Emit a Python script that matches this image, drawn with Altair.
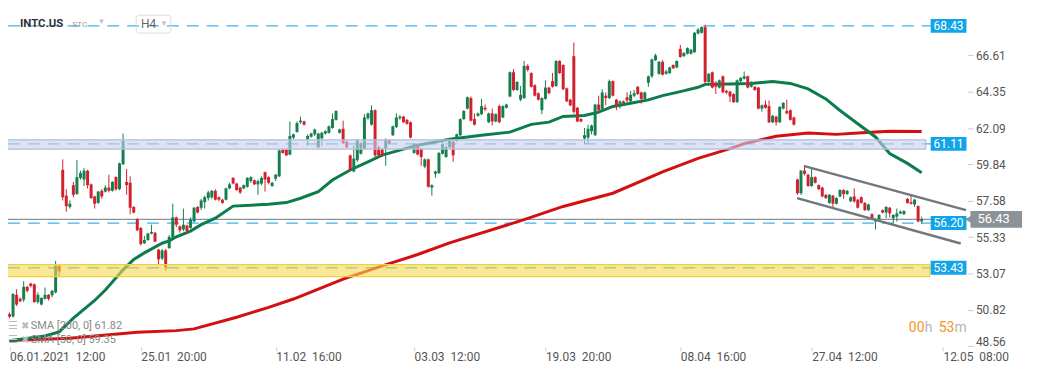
import altair as alt
import pandas as pd

# ---------------- data ----------------
opens = [50.55, 50.40, 51.75, 51.50, 51.45, 52.25, 52.45, 52.40, 51.30, 51.15,
         51.50, 51.75, 51.72, 51.90, 53.55, 59.50, 57.90, 57.20, 58.55, 58.00,
         59.00, 58.90, 59.45, 58.60, 57.85, 57.45, 58.20, 58.15, 58.40, 58.20,
         59.05, 58.30, 59.85, 58.75, 58.70, 57.20, 56.45, 55.90, 54.95, 55.15,
         55.55, 55.60, 54.55, 54.00, 54.50, 54.65, 55.30, 56.55, 56.00, 55.80,
         56.05, 55.90, 56.30, 57.20, 57.15, 57.50, 57.75, 57.80, 58.20, 57.80,
         57.65, 57.65, 58.35, 59.00, 58.65, 58.40, 58.35, 58.45, 58.80, 58.85,
         58.60, 58.65, 59.35, 59.05, 58.50, 58.95, 59.10, 60.75, 60.75, 60.45,
         61.50, 61.85, 62.45, 62.50, 61.40, 61.55, 61.70, 60.90, 61.45, 61.75,
         61.80, 62.10, 62.60, 61.80, 62.05, 61.25, 60.40, 59.40, 60.10, 60.50,
         60.80, 62.70, 62.30, 63.20, 60.90, 60.80, 60.80, 61.35, 61.65, 62.15,
         62.70, 62.80, 62.60, 62.45, 60.55, 61.00, 60.80, 59.70, 60.15, 58.40,
         59.25, 59.30, 60.50, 60.30, 60.90, 61.25, 61.30, 61.65, 62.65, 63.30,
         63.95, 62.65, 62.85, 62.95, 63.35, 62.45, 63.00, 62.50, 63.45, 62.75,
         63.35, 64.05, 65.55, 64.45, 63.85, 63.95, 65.95, 65.50, 64.75, 64.25,
         63.20, 63.90, 64.60, 65.00, 64.70, 66.25, 66.00, 64.55, 63.85, 66.55,
         63.35, 62.65, 61.45, 61.50, 61.90, 61.65, 63.55, 63.25, 64.10, 63.95,
         65.00, 63.85, 63.45, 63.75, 64.00, 63.75, 64.10, 64.65, 64.30, 63.90,
         64.90, 65.30, 66.30, 65.45, 66.20, 65.45, 65.50, 66.00, 65.85, 67.00,
         66.55, 66.70, 66.70, 66.80, 67.95, 68.00, 68.35, 64.95, 65.55, 64.90,
         64.60, 65.30, 64.40, 64.35, 64.20, 63.70, 65.00, 65.15, 65.30, 64.65,
         64.65, 64.60, 63.30, 63.55, 63.45, 62.45, 62.80, 62.45, 63.30, 63.15,
         63.20, 62.75, 58.90, 58.05, 59.45, 59.20, 58.50, 59.05, 58.55, 58.40,
         57.95, 57.45, 57.90, 57.40, 57.85, 58.25, 58.00, 57.55, 57.85, 57.65,
         57.80, 57.45, 57.00, 56.75, 56.30, 56.45, 57.00, 56.85, 57.15, 56.50,
         56.60, 56.80, 56.75, 57.70, 57.50, 57.35, 57.25, 56.30]
highs = [50.65, 51.85, 52.10, 51.60, 52.60, 52.30, 52.50, 52.45, 51.90, 51.60,
         52.20, 51.80, 52.05, 53.85, 53.60, 60.15, 58.30, 57.60, 58.75, 60.10,
         59.45, 59.60, 59.50, 58.65, 57.90, 58.20, 58.30, 58.55, 59.20, 58.80,
         59.10, 59.95, 61.75, 59.55, 59.10, 57.25, 56.50, 55.95, 55.40, 55.60,
         56.10, 55.65, 54.60, 54.60, 54.60, 55.45, 57.40, 56.60, 56.05, 57.10,
         56.10, 56.55, 57.20, 57.25, 57.70, 57.90, 58.20, 58.25, 58.30, 57.85,
         57.70, 58.40, 58.70, 59.05, 58.70, 58.45, 58.60, 59.05, 59.10, 58.90,
         58.90, 59.10, 59.40, 59.10, 58.75, 59.25, 60.80, 60.80, 60.85, 62.50,
         61.75, 62.50, 62.80, 62.55, 61.70, 61.80, 62.05, 61.80, 61.85, 61.95,
         62.25, 63.00, 63.20, 62.05, 62.55, 61.30, 60.45, 61.00, 61.40, 61.20,
         62.95, 63.05, 63.50, 63.25, 61.00, 60.85, 61.45, 61.40, 62.25, 63.00,
         62.90, 62.85, 62.65, 62.50, 61.15, 61.05, 60.85, 60.20, 60.20, 58.60,
         59.45, 60.60, 61.20, 61.00, 61.35, 61.30, 61.75, 62.70, 63.20, 64.05,
         64.05, 63.00, 63.05, 63.90, 63.55, 63.05, 63.30, 63.00, 63.55, 63.50,
         63.60, 65.60, 65.75, 65.00, 64.70, 66.25, 66.05, 65.55, 64.80, 64.30,
         64.00, 65.05, 64.65, 65.50, 66.30, 66.30, 66.05, 64.60, 63.90, 67.40,
         63.40, 62.70, 62.10, 62.30, 62.30, 63.60, 64.10, 64.50, 64.30, 65.10,
         65.05, 63.90, 63.80, 63.80, 64.30, 64.40, 64.45, 64.70, 64.35, 64.35,
         65.35, 66.40, 66.70, 66.25, 66.30, 65.70, 65.90, 66.05, 66.30, 67.25,
         66.80, 67.10, 67.00, 68.05, 68.30, 68.40, 68.50, 65.50, 65.60, 65.00,
         65.10, 65.35, 64.45, 64.40, 64.25, 65.10, 65.25, 65.60, 65.35, 65.00,
         64.70, 64.65, 63.55, 63.80, 63.80, 62.90, 62.85, 63.45, 63.70, 63.85,
         63.25, 62.80, 58.95, 59.50, 59.80, 59.25, 59.60, 59.10, 58.60, 58.45,
         58.00, 58.00, 57.95, 57.80, 58.30, 58.30, 58.25, 57.85, 58.35, 57.70,
         57.85, 57.50, 57.40, 56.80, 56.50, 56.75, 57.05, 57.25, 57.20, 56.75,
         57.10, 57.00, 57.00, 57.75, 57.90, 57.70, 57.30, 56.60]
lows = [50.30, 50.35, 51.05, 51.30, 51.30, 51.90, 52.20, 51.25, 51.20, 51.10,
        51.45, 51.40, 51.60, 51.85, 52.85, 57.60, 56.90, 57.10, 57.80, 57.95,
        58.90, 58.50, 58.35, 57.70, 57.10, 57.40, 57.70, 58.10, 58.10, 58.15,
        58.20, 58.25, 59.80, 57.95, 56.75, 56.80, 55.70, 54.80, 54.90, 55.10,
        55.50, 55.00, 53.65, 53.90, 53.25, 54.60, 55.25, 55.95, 55.60, 55.70,
        55.55, 55.85, 56.25, 56.80, 57.00, 57.10, 57.60, 57.70, 57.60, 57.55,
        57.40, 57.60, 58.30, 58.60, 58.20, 58.00, 58.30, 58.40, 58.70, 58.55,
        57.95, 58.55, 58.15, 58.60, 58.45, 58.80, 59.05, 60.50, 60.35, 60.40,
        61.40, 61.80, 62.35, 62.25, 61.00, 61.50, 61.60, 60.85, 61.00, 61.70,
        61.75, 62.05, 62.55, 61.75, 61.10, 60.85, 59.45, 59.35, 60.00, 60.45,
        60.75, 62.60, 62.25, 60.30, 60.35, 60.30, 59.75, 61.10, 61.60, 62.10,
        62.60, 62.40, 62.30, 61.45, 60.50, 60.40, 59.75, 59.60, 58.40, 57.90,
        59.00, 59.25, 60.45, 60.25, 60.85, 60.00, 61.25, 61.60, 62.60, 63.25,
        62.50, 62.25, 62.80, 62.90, 63.15, 62.40, 62.25, 62.45, 62.40, 62.70,
        63.30, 64.00, 64.40, 64.40, 63.75, 63.90, 65.60, 64.60, 64.05, 63.80,
        62.95, 63.85, 64.20, 64.60, 64.65, 65.45, 64.45, 63.70, 63.45, 63.00,
        62.45, 62.45, 61.10, 61.10, 61.70, 61.60, 63.15, 63.20, 63.50, 63.90,
        64.05, 63.20, 63.30, 63.55, 63.70, 63.70, 64.00, 64.15, 63.60, 63.85,
        64.65, 65.20, 66.25, 65.40, 65.35, 65.40, 65.45, 65.75, 65.80, 66.45,
        66.50, 66.65, 66.65, 66.75, 67.90, 67.95, 64.80, 64.90, 64.55, 64.20,
        64.55, 64.25, 64.20, 63.70, 63.65, 63.65, 64.90, 65.10, 64.55, 64.60,
        64.40, 63.25, 63.10, 63.30, 62.40, 62.40, 62.25, 62.40, 63.25, 62.95,
        62.55, 62.25, 57.95, 57.95, 59.15, 58.45, 58.45, 58.65, 58.25, 57.80,
        57.70, 57.40, 57.15, 57.35, 57.80, 57.70, 57.95, 57.50, 57.45, 57.10,
        57.40, 56.95, 56.95, 56.40, 55.80, 56.35, 56.80, 56.50, 56.55, 56.20,
        56.30, 56.75, 56.70, 57.40, 57.35, 57.20, 56.25, 56.15]
closes = [50.40, 51.80, 51.15, 51.35, 52.25, 52.00, 52.30, 51.30, 51.75, 51.55,
          51.75, 51.50, 52.00, 53.55, 53.20, 57.80, 57.25, 57.40, 57.95, 59.05,
          59.30, 59.45, 58.55, 57.75, 57.40, 58.15, 57.85, 58.40, 58.20, 58.75,
          58.30, 59.90, 61.30, 58.55, 57.15, 56.85, 55.75, 54.90, 55.15, 55.55,
          55.65, 55.05, 53.95, 54.50, 53.45, 55.35, 56.55, 56.10, 55.75, 56.10,
          55.70, 56.40, 57.15, 56.85, 57.60, 57.80, 58.10, 58.20, 57.65, 57.65,
          57.45, 58.35, 58.60, 58.65, 58.25, 58.10, 58.55, 59.00, 59.05, 58.60,
          58.80, 59.00, 58.90, 58.70, 58.70, 59.20, 60.70, 60.55, 60.40, 61.60,
          61.70, 62.40, 62.55, 62.30, 61.60, 61.75, 62.00, 61.75, 61.80, 61.90,
          62.20, 62.65, 63.15, 62.00, 61.15, 60.90, 59.50, 60.20, 61.35, 61.15,
          62.75, 63.00, 63.20, 60.40, 60.40, 60.40, 61.35, 61.15, 62.20, 62.75,
          62.80, 62.45, 62.35, 61.50, 61.10, 60.45, 60.30, 60.15, 58.45, 58.55,
          59.40, 60.55, 61.10, 60.90, 61.30, 60.40, 61.70, 62.65, 63.15, 64.00,
          62.55, 62.30, 63.00, 63.45, 63.25, 63.00, 62.50, 62.95, 62.45, 63.45,
          63.55, 65.55, 64.45, 64.95, 64.15, 65.95, 65.70, 64.65, 64.10, 63.85,
          63.95, 64.60, 64.25, 64.65, 66.25, 65.50, 64.50, 63.75, 63.50, 63.10,
          62.50, 62.50, 61.65, 62.05, 62.25, 63.55, 63.20, 64.30, 63.95, 65.00,
          64.10, 63.50, 63.75, 63.65, 63.80, 64.15, 64.25, 64.20, 63.90, 64.30,
          65.30, 66.35, 66.60, 66.20, 65.40, 65.60, 65.85, 65.80, 66.25, 66.50,
          66.75, 67.05, 66.95, 68.00, 68.20, 68.35, 64.95, 65.45, 64.60, 64.65,
          65.05, 64.30, 64.30, 64.05, 63.70, 65.05, 65.20, 65.30, 64.60, 64.95,
          64.45, 63.30, 63.50, 63.35, 62.45, 62.85, 62.45, 63.40, 63.65, 63.00,
          62.60, 62.30, 58.05, 59.45, 59.25, 58.50, 59.05, 58.70, 58.30, 57.85,
          57.75, 57.95, 57.40, 57.75, 58.25, 58.00, 58.20, 57.80, 57.55, 57.15,
          57.45, 57.00, 57.35, 56.45, 56.45, 56.70, 56.85, 57.20, 56.80, 56.70,
          56.80, 56.90, 56.95, 57.45, 57.40, 57.65, 56.30, 56.43]

sma50_idx = [0, 10, 14, 18, 24, 27, 32, 35, 38, 43, 45, 47, 51, 54, 58, 63, 73, 78,
             82, 87, 91, 96, 101, 105, 110, 115, 119, 124, 133, 141, 147, 152, 156,
             162, 166, 170, 175, 180, 184, 189, 194, 196, 203, 209, 215, 220, 225,
             230, 234, 239, 244, 248, 253, 257]
sma50_val = [48.90, 49.20, 49.45, 50.30, 51.40, 52.05, 53.30, 53.95, 54.35, 54.95,
             55.10, 55.35, 55.70, 56.10, 56.50, 57.25, 57.37, 57.47, 57.74, 58.15,
             58.87, 59.49, 60.00, 60.41, 60.72, 61.03, 61.19, 61.40, 61.64, 61.84,
             62.32, 62.46, 62.81, 62.87, 63.08, 63.43, 63.63, 63.84, 64.10, 64.35,
             64.62, 64.80, 64.82, 64.86, 64.98, 64.86, 64.52, 63.90, 63.18, 62.36,
             61.54, 60.51, 59.90, 59.32]
sma200_idx = [0, 17, 36, 47, 52, 64, 73, 80, 94, 105, 115, 124, 145, 156, 170, 184,
              194, 197, 203, 207, 216, 225, 233, 239, 248, 257]
sma200_val = [48.91, 49.06, 49.43, 49.53, 49.64, 50.36, 50.97, 51.49, 52.72, 53.55,
              54.25, 54.97, 56.41, 57.23, 58.05, 59.38, 60.21, 60.41, 60.82, 61.13,
              61.58, 61.78, 61.70, 61.78, 61.90, 61.88]

level_prices = [68.43, 61.11, 56.20, 53.43]
level_labels = ["68.43", "61.11", "56.20", "53.43"]
current_price = [56.43]
current_label = ["56.43"]
blue_zone = [61.36, 60.79]
yellow_zone = [53.62, 52.88]
channel_x1 = [224.0, 221.9]
channel_x2 = [269.5, 268.0]
channel_y1 = [59.73, 57.75]
channel_y2 = [57.00, 54.93]

xtick_idx = [0, 37, 75, 114, 151, 189, 226, 263]
sp = "\u00a0\u00a0"
xtick_lbl = ["06.01.2021" + sp + "12:00", "25.01" + sp + "20:00", "11.02" + sp + "16:00",
             "03.03" + sp + "12:00", "19.03" + sp + "20:00", "08.04" + sp + "16:00",
             "27.04" + sp + "12:00", "12.05" + sp + "08:00"]
ytick_vals = [48.56, 50.82, 53.07, 55.33, 57.58, 59.84, 62.09, 64.35, 66.61]

# ---------------- styling ----------------
GREEN = "#147f4f"
RED = "#d3202f"
SMA50_C = "#0b7d4b"
SMA200_C = "#d40f0f"
BLUE_TAG = "#12a4e8"
DASH_C = "#3fb2ee"
GREY = "#8b9298"
FONT = "Roboto"

candles = pd.DataFrame({
    "idx": list(range(len(opens))),
    "open": opens, "high": highs, "low": lows, "close": closes,
})
candles["dir"] = ["up" if c >= o else "down" for o, c in zip(opens, closes)]

xscale = alt.Scale(domain=[-0.42, 269.9], nice=False, zero=False)
yscale = alt.Scale(domain=[48.52, 69.46], nice=False, zero=False)

label_expr = "[" + ",".join("'" + s + "'" for s in xtick_lbl) + "][indexof([" + \
    ",".join(str(v) for v in xtick_idx) + "], datum.value)]"

x_axis = alt.Axis(values=xtick_idx, labelExpr=label_expr, labelAlign="left",
                  labelColor="#555", labelFontSize=12, labelFont=FONT, tickColor="#d0d0d0",
                  tickSize=4, domain=False, grid=False, labelPadding=1, title=None,
                  labelFlush=False, labelOverlap=False)
y_axis = alt.Axis(orient="right", values=ytick_vals, format=".2f", labelColor="#555",
                  labelFontSize=12, labelFont=FONT, tickColor="#cfcfcf", tickSize=6,
                  labelPadding=2, domain=False, grid=False, title=None, labelOverlap=False,
                  labelOffset={"condition": {"test": "datum.value < 49", "value": -5},
                               "value": 0})

cscale = alt.Scale(domain=["up", "down"], range=[GREEN, RED])


def X(field):
    return alt.X(field, scale=xscale, title=None)


def Y(field):
    return alt.Y(field, scale=yscale, title=None)


levels = pd.DataFrame({"p": level_prices, "lbl": level_labels})
cur = pd.DataFrame({"p": current_price, "lbl": current_label})

# first layer: invisible, carries the axes
axis_layer = alt.Chart(candles).mark_rule(opacity=0).encode(
    x=alt.X("idx:Q", scale=xscale, axis=x_axis),
    y=alt.Y("low:Q", scale=yscale, axis=y_axis),
    y2="high:Q")

dashes = alt.Chart(levels).mark_rule(strokeDash=[12, 8], color=DASH_C, strokeWidth=1.3).encode(
    y=Y("p:Q"), x=alt.value(0), x2=alt.value(929))
price_line = alt.Chart(cur).mark_rule(color=GREY, strokeWidth=1.3).encode(
    y=Y("p:Q"), x=alt.value(0), x2=alt.value(966))

sma200 = alt.Chart(pd.DataFrame({"i": sma200_idx, "v": sma200_val})).mark_line(
    color=SMA200_C, strokeWidth=3).encode(x=X("i:Q"), y=Y("v:Q"))
sma50 = alt.Chart(pd.DataFrame({"i": sma50_idx, "v": sma50_val})).mark_line(
    color=SMA50_C, strokeWidth=3).encode(x=X("i:Q"), y=Y("v:Q"))

wicks = alt.Chart(candles).mark_rule(strokeWidth=1).encode(
    x=X("idx:Q"), y=Y("low:Q"), y2="high:Q",
    color=alt.Color("dir:N", scale=cscale, legend=None))
bodies = alt.Chart(candles).mark_rule(strokeWidth=3).encode(
    x=X("idx:Q"), y=Y("open:Q"), y2="close:Q",
    color=alt.Color("dir:N", scale=cscale, legend=None))

channel = alt.Chart(pd.DataFrame({"x1": channel_x1, "x2": channel_x2,
                                  "y1": channel_y1, "y2": channel_y2})).mark_rule(
    color="#70777d", strokeWidth=2.5).encode(
    x=X("x1:Q"), x2="x2:Q", y=Y("y1:Q"), y2="y2:Q")

blue_band = alt.Chart(pd.DataFrame({"t": [blue_zone[0]], "b": [blue_zone[1]]})).mark_rect(
    fill="#c9cfea", fillOpacity=0.6, stroke="#b3bbe0", strokeWidth=1.2).encode(
    y=Y("t:Q"), y2="b:Q", x=alt.value(-2), x2=alt.value(924))
yellow_band = alt.Chart(pd.DataFrame({"t": [yellow_zone[0]], "b": [yellow_zone[1]]})).mark_rect(
    fill="#f9d94f", fillOpacity=0.6, stroke="#f2cd45", strokeWidth=1.2).encode(
    y=Y("t:Q"), y2="b:Q", x=alt.value(-2), x2=alt.value(928))

tag_bg = alt.Chart(levels).mark_rule(color=BLUE_TAG, strokeWidth=14).encode(
    y=Y("p:Q"), x=alt.value(929), x2=alt.value(965))
tag_txt = alt.Chart(levels).mark_text(color="white", fontSize=12, font=FONT,
                                      align="center", baseline="middle").encode(
    y=Y("p:Q"), x=alt.value(947), text="lbl:N")

cur_bg = alt.Chart(cur).mark_rule(color=GREY, strokeWidth=17).encode(
    y=Y("p:Q"), x=alt.value(969), x2=alt.value(1021))
cur_tip = alt.Chart(cur).mark_point(shape="triangle-left", filled=True, color=GREY,
                                    opacity=1, size=110).encode(
    y=Y("p:Q"), x=alt.value(968))
cur_txt = alt.Chart(cur).mark_text(color="white", fontSize=13, font=FONT,
                                   align="left", baseline="middle").encode(
    y=Y("p:Q"), x=alt.value(976), text="lbl:N")


def label(text, x, y, size=12, color="#333", weight="normal", align="left"):
    return alt.Chart(pd.DataFrame({"t": [text]})).mark_text(
        fontSize=size, color=color, fontWeight=weight, font=FONT, align=align,
        baseline="middle").encode(text="t:N", x=alt.value(x), y=alt.value(y))


h4_box = alt.Chart(pd.DataFrame({"a": [0]})).mark_rect(
    fillOpacity=0, stroke="#dcdcdc", strokeWidth=1, cornerRadius=3).encode(
    x=alt.value(129), x2=alt.value(164), y=alt.value(6), y2=alt.value(24))

texts = [
    label("INTC.US", 12, 14.5, 11.5, "#333", "bold"),
    label("STC", 65, 16, 8, "#999"),
    label("\u25bc", 90, 13, 8, "#c4c4c4"),
    label("H4", 134, 15, 12, "#666"),
    label("\u25bc", 153, 15, 8, "#c4c4c4"),
    label("\u2630", 0, 319, 11, "#bbb"),
    label("\u2716", 13, 319, 10, "#bbb"),
    label("SMA  [200,  0]  61.82", 23, 319, 11, "#888"),
    label("\u2630", 0, 333, 11, "#bbb"),
    label("\u2716", 13, 333, 10, "#bbb"),
    label("SMA  [50,  0]  59.35", 23, 333, 11, "#888"),
    label("00", 907, 321, 14, "#f7931e"),
    label("h", 923, 321, 14, "#b5b5b5"),
    label("53", 937, 321, 14, "#f7931e"),
    label("m", 953, 321, 14, "#b5b5b5"),
]

chart = alt.layer(
    axis_layer, dashes, price_line, sma200, sma50, wicks, bodies, channel,
    blue_band, yellow_band, tag_bg, tag_txt, cur_bg, cur_tip, cur_txt, h4_box, *texts
).properties(
    width=966, height=340,
    autosize=alt.AutoSizeParams(type="none"),
    padding={"left": 0, "top": 0, "right": 66, "bottom": 22},
    background="white",
).configure_view(stroke=None)

chart.save("out.html", embed_options={"renderer": "svg", "actions": False})
